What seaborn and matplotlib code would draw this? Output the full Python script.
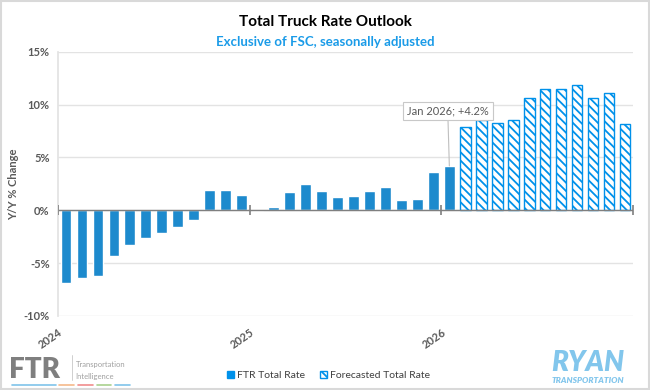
import matplotlib
matplotlib.use("Agg")
import matplotlib.pyplot as plt
from matplotlib.patches import Patch, Rectangle
from matplotlib.lines import Line2D
import seaborn as sns
import pandas as pd

# monthly Y/Y % change, Jan 2024 - Dec 2026
months = pd.date_range("2024-01-01", "2026-12-01", freq="MS").strftime("%b %Y").tolist()
actual = [-6.9, -6.45, -6.25, -4.3, -3.25, -2.62, -2.15, -1.6, -0.9, 1.95, 1.9, 1.45,
          -0.1, 0.3, 1.76, 2.5, 1.83, 1.26, 1.32, 1.83, 2.2, 0.95, 1.07, 3.6,
          4.2]
forecast = [7.86, 8.52, 8.3, 8.56, 10.64, 11.5, 11.5, 11.87, 10.6, 11.1, 8.2]
year_labels = ["2024", "2025", "2026"]
yticks = [-10, -5, 0, 5, 10, 15]

df = pd.DataFrame({
    "month": months,
    "value": actual + forecast,
    "kind": ["FTR Total Rate"] * len(actual) + ["Forecasted Total Rate"] * len(forecast),
})

blue = "#0091ea"
sns.set_theme(style="white")
plt.rcParams["font.family"] = ["Lato", "DejaVu Sans"]
plt.rcParams["hatch.linewidth"] = 1.3

fig = plt.figure(figsize=(6.5, 3.9), dpi=100)
ax = fig.add_axes([0.089, 0.19, 0.885, 0.677])

sns.barplot(data=df, x="month", y="value", hue="kind", dodge=False,
            palette=[blue, blue], width=0.66, legend=False, ax=ax)

for bar in ax.containers[0]:
    bar.set_zorder(2)
for bar in ax.containers[1]:
    bar.set_facecolor("white")
    bar.set_edgecolor(blue)
    bar.set_hatch("\\\\\\\\")
    bar.set_linewidth(1.0)
    bar.set_zorder(2)

ax.set_ylim(-10, 15)
ax.set_xlim(-0.5, len(months) - 0.5)
ax.set_yticks(yticks)
ax.set_yticklabels([f"{t}%" for t in yticks], color="#595959", fontsize=8, fontweight="bold")
ax.grid(axis="y", color="#e3e3e3", linewidth=1)
ax.set_axisbelow(True)
for s in ["top", "right", "bottom"]:
    ax.spines[s].set_visible(False)
ax.spines["left"].set_color("#e3e3e3")
ax.tick_params(axis="y", length=4, color="#e3e3e3", pad=2)

# year labels at category boundaries, zero line with boundary ticks
bounds = [-0.5 + 12 * i for i in range(len(year_labels) + 1)]
ax.set_xticks(bounds[:-1])
ax.set_xticklabels(year_labels, rotation=35, ha="right", rotation_mode="anchor",
                   color="#595959", fontsize=8, fontweight="bold")
ax.tick_params(axis="x", length=0, pad=8)
ax.axhline(0, color="#7f7f7f", linewidth=1.0, zorder=2.5)
ax.plot(bounds, [0] * len(bounds), linestyle="none", marker="|", markersize=7,
        color="#7f7f7f", markeredgewidth=1.2, zorder=3)

ax.set_xlabel("")
ax.set_ylabel("Y/Y % Change", color="#595959", fontsize=8, fontweight="bold")
ax.yaxis.set_label_coords(-0.068, 0.5)

# callout for the latest actual
last = len(actual) - 1
ax.annotate(f"{months[last][:3]} 2026; +{actual[last]:.1f}%", xy=(last, actual[last]),
            xytext=(last - 0.1, 9.4), ha="center", va="center", fontsize=8,
            color="#595959",
            bbox=dict(boxstyle="square,pad=0.35", fc="white", ec="#c8c8c8", lw=0.8),
            arrowprops=dict(arrowstyle="-", color="#bfbfbf", lw=0.8,
                            shrinkA=0, shrinkB=0), zorder=5)

fig.text(0.5, 0.944, "Total Truck Rate Outlook", ha="center", va="center",
         fontsize=11, fontweight="bold", color="black")
fig.text(0.5, 0.893, "Exclusive of FSC, seasonally adjusted", ha="center", va="center",
         fontsize=9.5, fontweight="bold", color="#1a9be8")

handles = [Patch(facecolor=blue, edgecolor=blue),
           Patch(facecolor="white", edgecolor=blue, hatch="\\\\\\\\")]
fig.legend(handles, ["FTR Total Rate", "Forecasted Total Rate"], loc="center",
           bbox_to_anchor=(0.505, 0.037), ncol=2, frameon=False, fontsize=7.5,
           handlelength=0.7, handleheight=0.7, handletextpad=0.3, columnspacing=1.4,
           labelcolor="#404040")

# logos as text
fig.text(0.014, 0.05, "FTR", fontsize=20, fontweight="heavy", color="#7f7f7f",
         ha="left", va="center")
fig.add_artist(Line2D([0.111, 0.111], [0.025, 0.09], color="#c8c8c8", lw=0.6))
fig.text(0.116, 0.066, "Transportation", fontsize=5.5, color="#a0a0a0", va="center")
fig.text(0.116, 0.034, "Intelligence", fontsize=5.5, color="#a0a0a0", va="center")
for x0, x1, c in [(0.018, 0.086, "#7fc4ea"), (0.091, 0.114, "#f5b98a"),
                  (0.12, 0.143, "#f08c8c"), (0.149, 0.171, "#a9d18e"),
                  (0.177, 0.2, "#7fc4ea")]:
    fig.add_artist(Line2D([x0, x1], [0.014, 0.014], color=c, lw=1.2))
fig.text(0.905, 0.07, "RYAN", fontsize=20, fontweight="heavy", style="italic",
         color="#82c6ec", ha="center", va="center")
fig.text(0.905, 0.025, "TRANSPORTATION", fontsize=6, fontweight="heavy", style="italic",
         color="#82c6ec", ha="center", va="center")

fig.add_artist(Rectangle((0.001, 0.002), 0.997, 0.995, transform=fig.transFigure,
                         fill=False, ec="#d9d9d9", lw=1.5))

fig.savefig("out.png", dpi=100)
